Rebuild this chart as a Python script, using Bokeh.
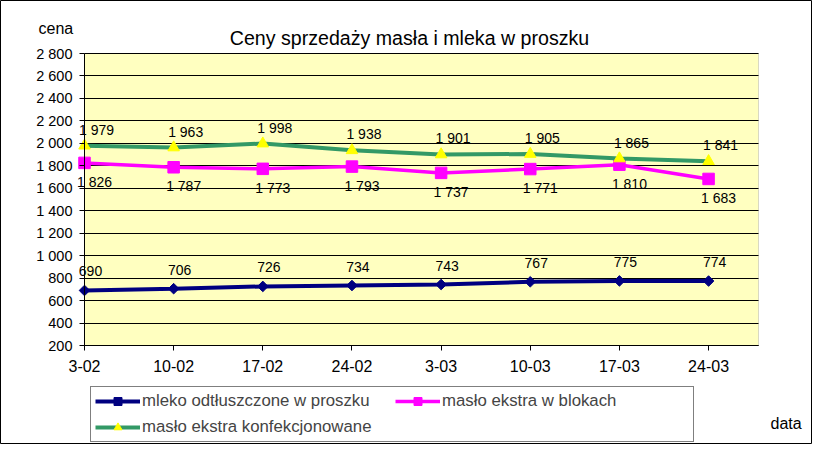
import math
from bokeh.plotting import figure
from bokeh.models import (Range1d, FixedTicker, Label, Legend, LegendItem,
                          ColumnDataSource, BoxAnnotation, LinearAxis, Grid)
from bokeh.embed import file_html
from bokeh.resources import INLINE
from bokeh.core.properties import value

# ---- data ----
dates = ["3-02", "10-02", "17-02", "24-02", "3-03", "10-03", "17-03", "24-03"]
mleko = [690, 706, 726, 734, 743, 767, 775, 774]
maslo_bloki = [1826, 1787, 1773, 1793, 1737, 1771, 1810, 1683]
maslo_konf = [1979, 1963, 1998, 1938, 1901, 1905, 1865, 1841]
y_ticks = [200, 400, 600, 800, 1000, 1200, 1400, 1600, 1800, 2000, 2200, 2400, 2600, 2800]

title_text = "Ceny sprzedaży masła i mleka w proszku"
y_title = "cena"
x_title = "data"
names = ["mleko odtłuszczone w proszku", "masło ekstra w blokach", "masło ekstra konfekcjonowane"]


def fmt(v):
    return f"{v:,}".replace(",", " ")


# ---- layout (pixels) ----
W, H = 812, 444
PL, PR, PT, PB = 84, 758, 53, 345        # plot area in canvas pixels
X_END = 7.56                              # category-axis extent (index units)
Y0, Y1 = y_ticks[0], y_ticks[-1]
sx = (PR - PL) / X_END
sy = (PB - PT) / (Y1 - Y0)
x_range = Range1d(-PL / sx, X_END + (W - PR) / sx)
y_range = Range1d(Y0 - (H - PB) / sy, Y1 + PT / sy)

FONT = "Liberation Sans"
xs = list(range(len(dates)))
src = ColumnDataSource(dict(
    x=xs,
    mleko=mleko, maslo_bloki=maslo_bloki, maslo_konf=maslo_konf,
    l_mleko=[fmt(v) for v in mleko],
    l_bloki=[fmt(v) for v in maslo_bloki],
    l_konf=[fmt(v) for v in maslo_konf],
))

p = figure(width=W, height=H, output_backend="svg", toolbar_location=None,
           x_range=x_range, y_range=y_range, x_axis_type=None, y_axis_type=None,
           min_border=0)
p.min_border_left = p.min_border_right = p.min_border_top = p.min_border_bottom = 0
p.title.text = ""
p.background_fill_color = "white"
p.border_fill_color = "white"
p.outline_line_color = "black"
p.outline_line_width = 1

# plot-area background
p.add_layout(BoxAnnotation(left=0, right=X_END, bottom=Y0, top=Y1,
                           fill_color="#FFFFC0", fill_alpha=1,
                           line_color="#808080", line_width=1, level="image"))

# axes
yaxis = LinearAxis(ticker=FixedTicker(ticks=y_ticks), fixed_location=0, bounds=(Y0, Y1))
yaxis.major_label_overrides = {v: fmt(v) for v in y_ticks}
xaxis = LinearAxis(ticker=FixedTicker(ticks=xs), fixed_location=Y0, bounds=(0, X_END))
xaxis.major_label_overrides = {i: d for i, d in enumerate(dates)}
for ax in (xaxis, yaxis):
    ax.axis_line_color = "black"
    ax.axis_line_width = 1
    ax.major_tick_line_color = "black"
    ax.major_tick_out = 5
    ax.major_tick_in = 0
    ax.minor_tick_line_color = None
    ax.major_label_text_font = FONT
    ax.major_label_text_color = "black"
yaxis.major_label_text_font_size = "14.5px"
yaxis.major_label_standoff = 7
xaxis.major_label_text_font_size = "16px"
xaxis.major_label_standoff = 9
p.add_layout(yaxis, "left")
p.add_layout(xaxis, "below")

# horizontal grid lines
yg = Grid(dimension=1, ticker=FixedTicker(ticks=y_ticks), grid_line_color="black",
          grid_line_width=1)
if "cross_bounds" in yg.properties():
    yg.cross_bounds = (0, X_END)
    yg.bounds = (Y0, Y1)
    p.add_layout(yg)
else:
    p.segment(x0=[0] * len(y_ticks), x1=[X_END] * len(y_ticks), y0=y_ticks, y1=y_ticks,
              line_color="black", line_width=1, level="underlay")

# series
r1l = p.line("x", "mleko", source=src, line_color="#000080", line_width=4)
r1m = p.scatter("x", "mleko", source=src, marker="square", angle=math.pi / 4, size=7.5,
                fill_color="#000080", line_color="#000080")
r2l = p.line("x", "maslo_bloki", source=src, line_color="#FF00FF", line_width=3.5)
r2m = p.scatter("x", "maslo_bloki", source=src, marker="square", size=11.5,
                fill_color="#FF00FF", line_color="#FF00FF")
r3l = p.line("x", "maslo_konf", source=src, line_color="#339966", line_width=4)
r3m = p.scatter("x", "maslo_konf", source=src, marker="triangle", size=11.5,
                fill_color="#FFFF00", line_color="#FFFF00")

# data labels
common = dict(source=src, text_font=value(FONT), text_font_size="14px", text_color="black",
              text_align="center", text_baseline="middle")
p.text("x", "mleko", text="l_mleko", x_offset=6, y_offset=-19, **common)
p.text("x", "maslo_bloki", text="l_bloki", x_offset=10, y_offset=19, **common)
p.text("x", "maslo_konf", text="l_konf", x_offset=12, y_offset=-16, **common)

# legend
legend = Legend(items=[
    LegendItem(label=names[0], renderers=[r1l, r1m]),
    LegendItem(label=names[1], renderers=[r2l, r2m]),
    LegendItem(label=names[2], renderers=[r3l, r3m]),
], location=(90, H - 442), orientation="horizontal", ncols=2)
legend.label_text_font = FONT
legend.label_text_font_size = "16.8px"
legend.glyph_width = 45
legend.glyph_height = 20
legend.label_height = 20
legend.label_width = 247
legend.label_standoff = 2
legend.spacing = 6
legend.padding = 4
legend.margin = 0
legend.border_line_color = "black"
legend.border_line_width = 1
legend.background_fill_color = "white"
legend.background_fill_alpha = 1
p.add_layout(legend)

# titles
lab_kw = dict(x_units="screen", y_units="screen", text_font=FONT, text_color="black",
              text_baseline="alphabetic")
p.add_layout(Label(x=409, y=H - 37, text=title_text, text_font_size="19.6px",
                   text_align="center", **lab_kw))
p.add_layout(Label(x=38, y=H - 28, text=y_title, text_font_size="16px",
                   text_align="left", **lab_kw))
p.add_layout(Label(x=770, y=H - 423, text=x_title, text_font_size="16px",
                   text_align="left", **lab_kw))

open("out.html", "w").write(file_html(p, INLINE))
